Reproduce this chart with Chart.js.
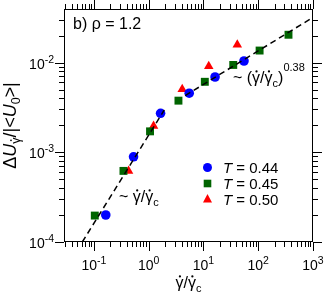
<!DOCTYPE html>
<html>
<head>
<meta charset="utf-8">
<script src="https://cdn.jsdelivr.net/npm/chart.js@4.4.0/dist/chart.umd.min.js"></script>
<style>
  html, body { margin: 0; padding: 0; background: #fff; }
</style>
</head>
<body>
<canvas id="chart" width="327" height="296"></canvas>
<script>
// data
const xT044 = [0.165, 0.53, 1.65, 5.5, 16.3, 55];
const yT044 = [2.0e-4, 8.9e-4, 2.72e-3, 4.55e-3, 6.9e-3, 1.04e-2];

const xT045 = [0.104, 0.347, 1.06, 3.5, 10.6, 35, 106, 357];
const yT045 = [1.97e-4, 6.2e-4, 1.71e-3, 3.76e-3, 6.1e-3, 9.4e-3, 1.36e-2, 2.04e-2];

const xT050 = [0.43, 1.23, 4.1, 12.5, 41.5];
const yT050 = [6.2e-4, 1.96e-3, 5.05e-3, 9.1e-3, 1.58e-2];

// power-law guides
const fitLowX = [0.0615, 1.93];
const fitLowY = [1.0e-4, 2.96e-3];
const fitHighX = [4.64, 890];
const fitHighY = [4.28e-3, 3.05e-2];

const xTicks = [0.1, 1, 10, 100, 1000];
const xTickExp = ["-1", "0", "1", "2", "3"];
const yTicks = [1e-4, 1e-3, 1e-2];
const yTickExp = ["-4", "-3", "-2"];

const legendLabels = ["0.44", "0.45", "0.50"];

const FONT = "'Liberation Sans', Arial, sans-serif";
const BLUE = "#0000ff";
const GREEN = "#006400";
const RED = "#ff0000";

const pts = (xs, ys) => xs.map((x, i) => ({ x: x, y: ys[i] }));

function fontOf(p) {
  return (p.italic ? "italic " : "") + p.size + "px " + FONT;
}

// draws a list of text parts one after the other, returns width
function drawRich(ctx, parts, x, y, align) {
  let w = 0;
  parts.forEach(p => {
    ctx.font = fontOf(p);
    p.w = ctx.measureText(p.t).width;
    w += p.w;
  });
  let cx = x;
  if (align === "center") cx = x - w / 2;
  if (align === "right") cx = x - w;
  parts.forEach(p => {
    ctx.font = fontOf(p);
    ctx.fillText(p.t, cx, y + (p.dy || 0));
    if (p.dot) {
      ctx.beginPath();
      ctx.arc(cx + p.w * 0.55, y + (p.dy || 0) - p.size * 0.72, p.size * 0.07, 0, Math.PI * 2);
      ctx.fill();
    }
    cx += p.w;
  });
  return w;
}

const gammaRatio = (size) => [
  { t: "γ", size: size, dot: true },
  { t: "/", size: size },
  { t: "γ", size: size, dot: true },
  { t: "c", size: Math.round(size * 0.7), dy: size * 0.25 }
];

const decor = {
  id: "decor",
  afterDatasetsDraw(chart) {
    const ctx = chart.ctx;
    const a = chart.chartArea;
    const xs = chart.scales.x;
    const ys = chart.scales.y;
    ctx.save();
    ctx.fillStyle = "#000";
    ctx.strokeStyle = "#000";
    ctx.lineWidth = 1;
    ctx.textBaseline = "alphabetic";
    ctx.textAlign = "left";

    // frame
    ctx.strokeRect(a.left + 0.5, a.top + 0.5, a.right - a.left - 1, a.bottom - a.top - 1);

    // ticks, outward on all four sides
    const major = 9, minor = 5;
    ctx.beginPath();
    for (let e = -2; e <= 3; e++) {
      for (let m = 1; m <= 9; m++) {
        const v = m * Math.pow(10, e);
        if (v < xs.min * 0.999 || v > xs.max * 1.001) continue;
        const px = Math.round(xs.getPixelForValue(v)) + 0.5;
        const len = m === 1 ? major : minor;
        ctx.moveTo(px, a.bottom); ctx.lineTo(px, a.bottom + len);
        ctx.moveTo(px, a.top); ctx.lineTo(px, a.top - len);
      }
    }
    for (let e = -5; e <= -1; e++) {
      for (let m = 1; m <= 9; m++) {
        const v = m * Math.pow(10, e);
        if (v < ys.min * 0.999 || v > ys.max * 1.001) continue;
        const py = Math.round(ys.getPixelForValue(v)) + 0.5;
        const len = m === 1 ? major : minor;
        ctx.moveTo(a.left, py); ctx.lineTo(a.left - len, py);
        ctx.moveTo(a.right, py); ctx.lineTo(a.right + len, py);
      }
    }
    ctx.stroke();

    // tick labels
    xTicks.forEach((v, i) => {
      drawRich(ctx, [{ t: "10", size: 14 }, { t: xTickExp[i], size: 10.5, dy: -6 }],
        xs.getPixelForValue(v), 270, "center");
    });
    yTicks.forEach((v, i) => {
      drawRich(ctx, [{ t: "10", size: 14 }, { t: yTickExp[i], size: 10.5, dy: -6 }],
        a.left - 10, ys.getPixelForValue(v) + 6, "right");
    });

    // axis titles
    drawRich(ctx, gammaRatio(16), (a.left + a.right) / 2, 288, "center");
    ctx.save();
    ctx.translate(16, (a.top + a.bottom) / 2);
    ctx.rotate(-Math.PI / 2);
    drawRich(ctx, [
      { t: "Δ", size: 18 },
      { t: "U", size: 18, italic: true },
      { t: "γ", size: 12.5, dot: true, dy: 4 },
      { t: "/|<", size: 18 },
      { t: "U", size: 18, italic: true },
      { t: "0", size: 12.5, dy: 4 },
      { t: ">|", size: 18 }
    ], 0, 0, "center");
    ctx.restore();

    // annotations
    drawRich(ctx, [{ t: "b) ρ = 1.2", size: 16 }], 73, 29, "left");
    drawRich(ctx, [{ t: "~ (", size: 16 }].concat(gammaRatio(16), [
      { t: ")", size: 16 }, { t: "0.38", size: 11, dy: -12 }
    ]), 233, 83, "left");
    drawRich(ctx, [{ t: "~ ", size: 16 }].concat(gammaRatio(16)), 119, 202, "left");

    // legend
    const rows = [167.5, 183.5, 199];
    const mx = 207.5;
    ctx.fillStyle = BLUE;
    ctx.beginPath(); ctx.arc(mx, rows[0], 4.5, 0, Math.PI * 2); ctx.fill();
    ctx.fillStyle = GREEN;
    ctx.fillRect(mx - 3.8, rows[1] - 3.8, 7.6, 7.6);
    ctx.fillStyle = RED;
    ctx.beginPath();
    ctx.moveTo(mx, rows[2] - 5); ctx.lineTo(mx + 4.5, rows[2] + 3.5); ctx.lineTo(mx - 4.5, rows[2] + 3.5);
    ctx.closePath(); ctx.fill();
    ctx.fillStyle = "#000";
    legendLabels.forEach((lab, i) => {
      drawRich(ctx, [{ t: "T", size: 15, italic: true }, { t: " = " + lab, size: 15 }], 223, rows[i] + 5.5, "left");
    });
    ctx.restore();
  }
};

const ctx = document.getElementById("chart").getContext("2d");
new Chart(ctx, {
  type: "scatter",
  data: {
    datasets: [
      {
        data: pts(fitLowX, fitLowY), showLine: true, pointRadius: 0,
        borderColor: "#000", borderWidth: 1.5, borderDash: [6, 4], order: 0
      },
      {
        data: pts(fitHighX, fitHighY), showLine: true, pointRadius: 0,
        borderColor: "#000", borderWidth: 1.5, borderDash: [6, 4], order: 0
      },
      {
        label: "T = 0.44", data: pts(xT044, yT044), pointStyle: "circle", pointRadius: 4.8,
        backgroundColor: BLUE, borderColor: BLUE, borderWidth: 0, order: 1
      },
      {
        label: "T = 0.45", data: pts(xT045, yT045), pointStyle: "rect", pointRadius: 5.6,
        backgroundColor: GREEN, borderColor: GREEN, borderWidth: 0, order: 1
      },
      {
        label: "T = 0.50", data: pts(xT050, yT050), pointStyle: "triangle", pointRadius: 5.5,
        backgroundColor: RED, borderColor: RED, borderWidth: 0, order: 1
      }
    ]
  },
  options: {
    responsive: false,
    animation: false,
    events: [],
    layout: { padding: { left: 64, right: 14, top: 9, bottom: 54 } },
    plugins: { legend: { display: false }, tooltip: { enabled: false } },
    scales: {
      x: { type: "logarithmic", min: 0.0285, max: 1000, bounds: "data", display: false },
      y: { type: "logarithmic", min: 1e-4, max: 0.0395, bounds: "data", display: false }
    }
  },
  plugins: [decor]
});
</script>
</body>
</html>
